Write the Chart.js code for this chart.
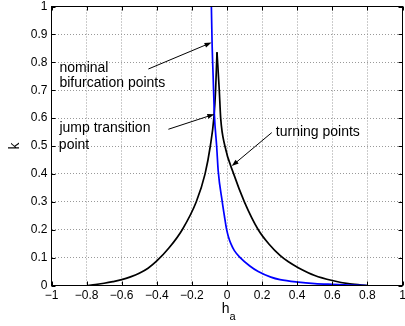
<!DOCTYPE html>
<html>
<head>
<meta charset="utf-8">
<script src="https://cdn.jsdelivr.net/npm/chart.js@4"></script>
<style>
  html, body { margin: 0; padding: 0; background: #fff; }
</style>
</head>
<body>
<canvas id="myChart" width="405" height="326"></canvas>
<script>
// tick values and labels
const xTicks = [-1, -0.8, -0.6, -0.4, -0.2, 0, 0.2, 0.4, 0.6, 0.8, 1];
const xTickLabels = ['\u22121', '\u22120.8', '\u22120.6', '\u22120.4', '\u22120.2', '0', '0.2', '0.4', '0.6', '0.8', '1'];
const yTicks = [0, 0.1, 0.2, 0.3, 0.4, 0.5, 0.6, 0.7, 0.8, 0.9, 1];
const yTickLabels = ['0', '0.1', '0.2', '0.3', '0.4', '0.5', '0.6', '0.7', '0.8', '0.9', '1'];

// turning points curve (black), left and right branch meet at the cusp
const blackLeftX = [-0.80, -0.75, -0.70, -0.65, -0.60, -0.55, -0.50, -0.45, -0.40, -0.33, -0.255, -0.175, -0.125, -0.095, -0.075, -0.065, -0.057];
const blackLeftK = [0.000, 0.003, 0.008, 0.014, 0.021, 0.031, 0.044, 0.062, 0.088, 0.135, 0.200, 0.300, 0.400, 0.500, 0.600, 0.700, 0.836];
const blackRightX = [-0.057, -0.044, -0.036, -0.012, 0.038, 0.099, 0.178, 0.240, 0.302, 0.350, 0.406, 0.500, 0.600, 0.700, 0.800];
const blackRightK = [0.836, 0.700, 0.600, 0.500, 0.400, 0.300, 0.200, 0.148, 0.108, 0.085, 0.064, 0.036, 0.018, 0.006, 0.000];

// nominal bifurcation curve (blue)
const blueX = [-0.089, -0.085, -0.079, -0.072, -0.059, -0.050, -0.027, -0.015, -0.002, 0.008, 0.022, 0.042, 0.075, 0.130, 0.178, 0.250, 0.302, 0.406, 0.500, 0.600, 0.700, 0.800];
const blueK = [1.000, 0.870, 0.750, 0.614, 0.500, 0.410, 0.300, 0.250, 0.200, 0.175, 0.150, 0.125, 0.100, 0.070, 0.050, 0.030, 0.021, 0.012, 0.007, 0.004, 0.0015, 0.000];

// text notes and arrows, in data coordinates
const notes = [
    { text: 'nominal', x: -0.955, k: 0.767 },
    { text: 'bifurcation points', x: -0.955, k: 0.710 },
    { text: 'jump transition', x: -0.955, k: 0.549 },
    { text: 'point', x: -0.958, k: 0.489 },
    { text: 'turning points', x: 0.278, k: 0.537 }
];
const arrows = [
    { x0: -0.448, k0: 0.776, x1: -0.088, k1: 0.871 },
    { x0: -0.334, k0: 0.560, x1: -0.072, k1: 0.614 },
    { x0: 0.255, k0: 0.548, x1: 0.027, k1: 0.428 }
];

const FONT = '"Liberation Sans", Arial, Helvetica, sans-serif';

function toPoints(xs, ks) {
    return xs.map((v, i) => ({ x: v, y: ks[i] }));
}

function drawArrow(ctx, x0, y0, x1, y1) {
    const ang = Math.atan2(y1 - y0, x1 - x0);
    const len = 7, half = 2.5;
    const c = Math.cos(ang), s = Math.sin(ang);
    ctx.beginPath();
    ctx.moveTo(x0, y0);
    ctx.lineTo(x1 - len * c * 0.7, y1 - len * s * 0.7);
    ctx.stroke();
    ctx.beginPath();
    ctx.moveTo(x1, y1);
    ctx.lineTo(x1 - len * c + half * s, y1 - len * s - half * c);
    ctx.lineTo(x1 - len * c - half * s, y1 - len * s + half * c);
    ctx.closePath();
    ctx.fill();
}

const decorations = {
    id: 'decorations',
    afterDraw(chart) {
        const ctx = chart.ctx;
        const a = chart.chartArea;
        const xs = chart.scales.x, ys = chart.scales.y;
        ctx.save();
        ctx.strokeStyle = '#000';
        ctx.fillStyle = '#000';
        ctx.lineWidth = 1;

        // box
        ctx.strokeRect(a.left, a.top, a.right - a.left, a.bottom - a.top);

        // inward ticks on all four sides
        ctx.beginPath();
        xTicks.forEach(v => {
            const px = Math.round(xs.getPixelForValue(v)) + 0.5;
            ctx.moveTo(px, a.bottom); ctx.lineTo(px, a.bottom - 4);
            ctx.moveTo(px, a.top); ctx.lineTo(px, a.top + 4);
        });
        yTicks.forEach(v => {
            const py = Math.round(ys.getPixelForValue(v)) + 0.5;
            ctx.moveTo(a.left, py); ctx.lineTo(a.left + 4, py);
            ctx.moveTo(a.right, py); ctx.lineTo(a.right - 4, py);
        });
        ctx.stroke();

        // notes
        ctx.font = '14px ' + FONT;
        ctx.textAlign = 'left';
        ctx.textBaseline = 'alphabetic';
        notes.forEach(n => {
            ctx.fillText(n.text, xs.getPixelForValue(n.x), ys.getPixelForValue(n.k));
        });

        // arrows
        arrows.forEach(r => {
            drawArrow(ctx,
                xs.getPixelForValue(r.x0), ys.getPixelForValue(r.k0),
                xs.getPixelForValue(r.x1), ys.getPixelForValue(r.k1));
        });

        // x axis title h with subscript a
        const cx = (a.left + a.right) / 2;
        ctx.font = '14px ' + FONT;
        ctx.fillText('h', cx - 5.2, a.bottom + 27);
        ctx.font = '11px ' + FONT;
        ctx.fillText('a', cx + 2.5, a.bottom + 34.5);
        ctx.restore();
    }
};

function curve(label, xs, ks, color, order) {
    return {
        label: label,
        data: toPoints(xs, ks),
        borderColor: color,
        backgroundColor: color,
        borderWidth: 1.7,
        pointRadius: 0,
        pointHoverRadius: 0,
        cubicInterpolationMode: 'monotone',
        tension: 0.4,
        fill: false,
        order: order
    };
}

window.onload = function() {
    const ctx = document.getElementById('myChart').getContext('2d');

    new Chart(ctx, {
        type: 'line',
        data: {
            datasets: [
                curve('turning points (left)', blackLeftX, blackLeftK, '#000000', 1),
                curve('turning points (right)', blackRightX, blackRightK, '#000000', 1),
                curve('nominal bifurcation points', blueX, blueK, '#0000ff', 0)
            ]
        },
        options: {
            responsive: false,
            animation: false,
            layout: { padding: { top: 6.5, right: 2.5, left: 0, bottom: 0 } },
            plugins: {
                legend: { display: false },
                tooltip: { enabled: false }
            },
            scales: {
                x: {
                    type: 'linear',
                    min: -1,
                    max: 1,
                    afterBuildTicks: s => { s.ticks = xTicks.map(v => ({ value: v })); },
                    afterFit: s => { s.height = 40.5; s.paddingLeft = 0; s.paddingRight = 0; },
                    ticks: {
                        callback: (v, i) => xTickLabels[i],
                        color: '#000',
                        font: { size: 12, family: FONT },
                        padding: 3,
                        maxRotation: 0,
                        autoSkip: false
                    },
                    grid: { color: '#999', drawTicks: false, lineWidth: 1 },
                    border: { display: false, dash: [1, 2] }
                },
                y: {
                    type: 'linear',
                    min: 0,
                    max: 1,
                    afterBuildTicks: s => { s.ticks = yTicks.map(v => ({ value: v })); },
                    afterFit: s => { s.width = 51.5; s.paddingTop = 0; s.paddingBottom = 0; },
                    ticks: {
                        callback: (v, i) => yTickLabels[i],
                        color: '#000',
                        font: { size: 12, family: FONT },
                        padding: 4,
                        autoSkip: false
                    },
                    grid: { color: '#999', drawTicks: false, lineWidth: 1 },
                    border: { display: false, dash: [1, 2] },
                    title: {
                        display: true,
                        text: 'k',
                        color: '#000',
                        font: { size: 14, family: FONT },
                        padding: { top: 7, bottom: 0 }
                    }
                }
            }
        },
        plugins: [decorations]
    });
};
</script>
</body>
</html>
